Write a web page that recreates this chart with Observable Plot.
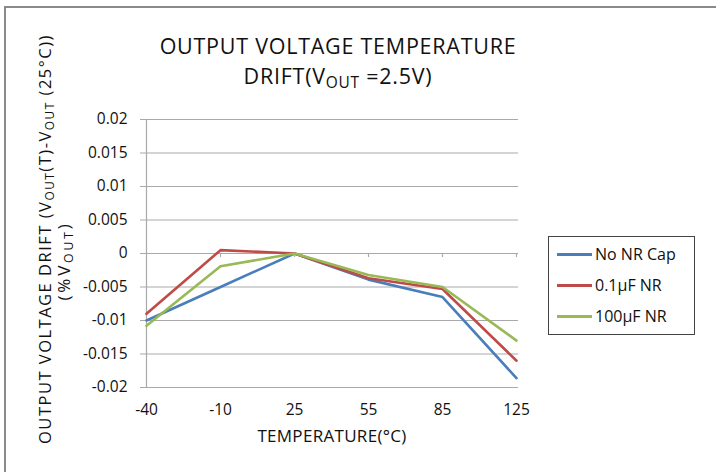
<!DOCTYPE html>
<html>
<head>
<meta charset="utf-8">
<script src="https://cdn.jsdelivr.net/npm/d3@7"></script>
<script src="https://cdn.jsdelivr.net/npm/@observablehq/plot@0.6"></script>
<style>
  html, body { margin: 0; padding: 0; background: #fff; }
  #wrap { position: relative; width: 716px; height: 472px; overflow: hidden; background: #fff;
          font-family: "Open Sans", "Noto Sans", sans-serif; color: #111; }
  .abs { position: absolute; }
  .title { left: 0; width: 676px; text-align: center; font-size: 21.5px; line-height: 29px; letter-spacing: 0.75px; white-space: nowrap; }
  #title1 { top: 31px; }
  #title2 { top: 61px; }
  sub.o { font-size: 0.72em; vertical-align: -0.25em; line-height: 0; }
  #ylab1, #ylab2 { white-space: nowrap; text-align: center; transform-origin: 0 0; }
  #ylab1 { left: 33px; top: 239px; font-size: 16.5px; letter-spacing: 1.5px; width: 480px; transform: rotate(-90deg) translate(-240px, 0); }
  #ylab2 { left: 52px; top: 261px; font-size: 17px; letter-spacing: 2.8px; width: 140px; transform: rotate(-90deg) translate(-70px, 0); }
  #xlab { left: 212px; width: 240px; top: 424px; text-align: center; font-size: 17px; letter-spacing: 0.3px; }
  #legend { left: 548px; top: 236px; width: 145px; height: 97px; border: 1px solid #444; font-size: 16px; }
  .item { position: absolute; left: 8px; height: 20px; display: flex; align-items: center; }
  .sw { width: 35px; height: 3px; margin-right: 3px; }
  #frameTop { left: 4px; top: 6px; width: 712px; height: 2px; background: #8a8a8a; }
  #frameLeft { left: 4px; top: 6px; width: 2px; height: 466px; background: #8a8a8a; }
</style>
</head>
<body>
<div id="wrap">
  <div id="frameTop" class="abs"></div>
  <div id="frameLeft" class="abs"></div>
  <div id="chart" class="abs" style="left:0;top:0"></div>
  <div id="title1" class="abs title">OUTPUT VOLTAGE TEMPERATURE</div>
  <div id="title2" class="abs title">DRIFT(V<sub class="o">OUT</sub> =2.5V)</div>
  <div id="ylab1" class="abs">OUTPUT VOLTAGE DRIFT (V<sub class="o">OUT</sub>(T)-V<sub class="o">OUT</sub> (25°C))</div>
  <div id="ylab2" class="abs">(%V<sub class="o">OUT</sub>)</div>
  <div id="xlab" class="abs">TEMPERATURE(°C)</div>
  <div id="legend" class="abs"></div>
</div>
<script>
// ---- data ----
const temperatures = ["-40", "-10", "25", "55", "85", "125"];
const seriesNames = ["No NR Cap", "0.1µF NR", "100µF NR"];
const noNRCap = [-0.0100, -0.0050, 0, -0.0039, -0.0065, -0.0186];
const nr0p1uF = [-0.0090, 0.0005, 0, -0.0037, -0.0053, -0.0160];
const nr100uF = [-0.0108, -0.0019, 0, -0.0032, -0.0050, -0.0130];
const yTicks = [-0.02, -0.015, -0.01, -0.005, 0, 0.005, 0.01, 0.015, 0.02];
const seriesColors = ["#4a7ebb", "#be4b48", "#98b954"];

const seriesValues = [noNRCap, nr0p1uF, nr100uF];
const rows = [];
seriesNames.forEach((s, i) => temperatures.forEach((t, j) => rows.push({series: s, t, v: seriesValues[i][j]})));

const grid = "#a9a9a9";
const fmt = d => String(+d.toFixed(3));

const chart = Plot.plot({
  width: 716,
  height: 472,
  marginLeft: 144,
  marginRight: 198,
  marginTop: 119,
  marginBottom: 85,
  style: {fontFamily: "'Open Sans', 'Noto Sans', sans-serif", fontSize: "15.5px", color: "#111", background: "transparent", overflow: "visible"},
  x: {type: "point", domain: temperatures, padding: 0, label: null},
  y: {domain: [-0.02, 0.02], label: null},
  color: {domain: seriesNames, range: seriesColors},
  marks: [
    Plot.ruleY(yTicks, {stroke: grid, strokeWidth: 1.2}),
    Plot.ruleX([temperatures[0]], {y1: -0.02, y2: 0.02, stroke: grid, strokeWidth: 1.2}),
    Plot.ruleX(temperatures.slice(1), {y1: 0, y2: -0.0006, stroke: grid, strokeWidth: 1.2}),
    Plot.axisY({ticks: yTicks, tickSize: 4, tickPadding: 13, tickFormat: fmt, stroke: grid, label: null}),
    Plot.axisX({tickSize: 0, tickPadding: 16, label: null}),
    Plot.line(rows, {x: "t", y: "v", z: "series", stroke: "series", strokeWidth: 2.6})
  ]
});
document.getElementById("chart").appendChild(chart);

// legend
const legend = document.getElementById("legend");
const tops = [7, 38, 69];
seriesNames.forEach((s, i) => {
  const item = document.createElement("div");
  item.className = "item";
  item.style.top = tops[i] + "px";
  const sw = document.createElement("div");
  sw.className = "sw";
  sw.style.background = seriesColors[i];
  const lab = document.createElement("span");
  lab.textContent = s;
  item.appendChild(sw);
  item.appendChild(lab);
  legend.appendChild(item);
});
</script>
</body>
</html>
